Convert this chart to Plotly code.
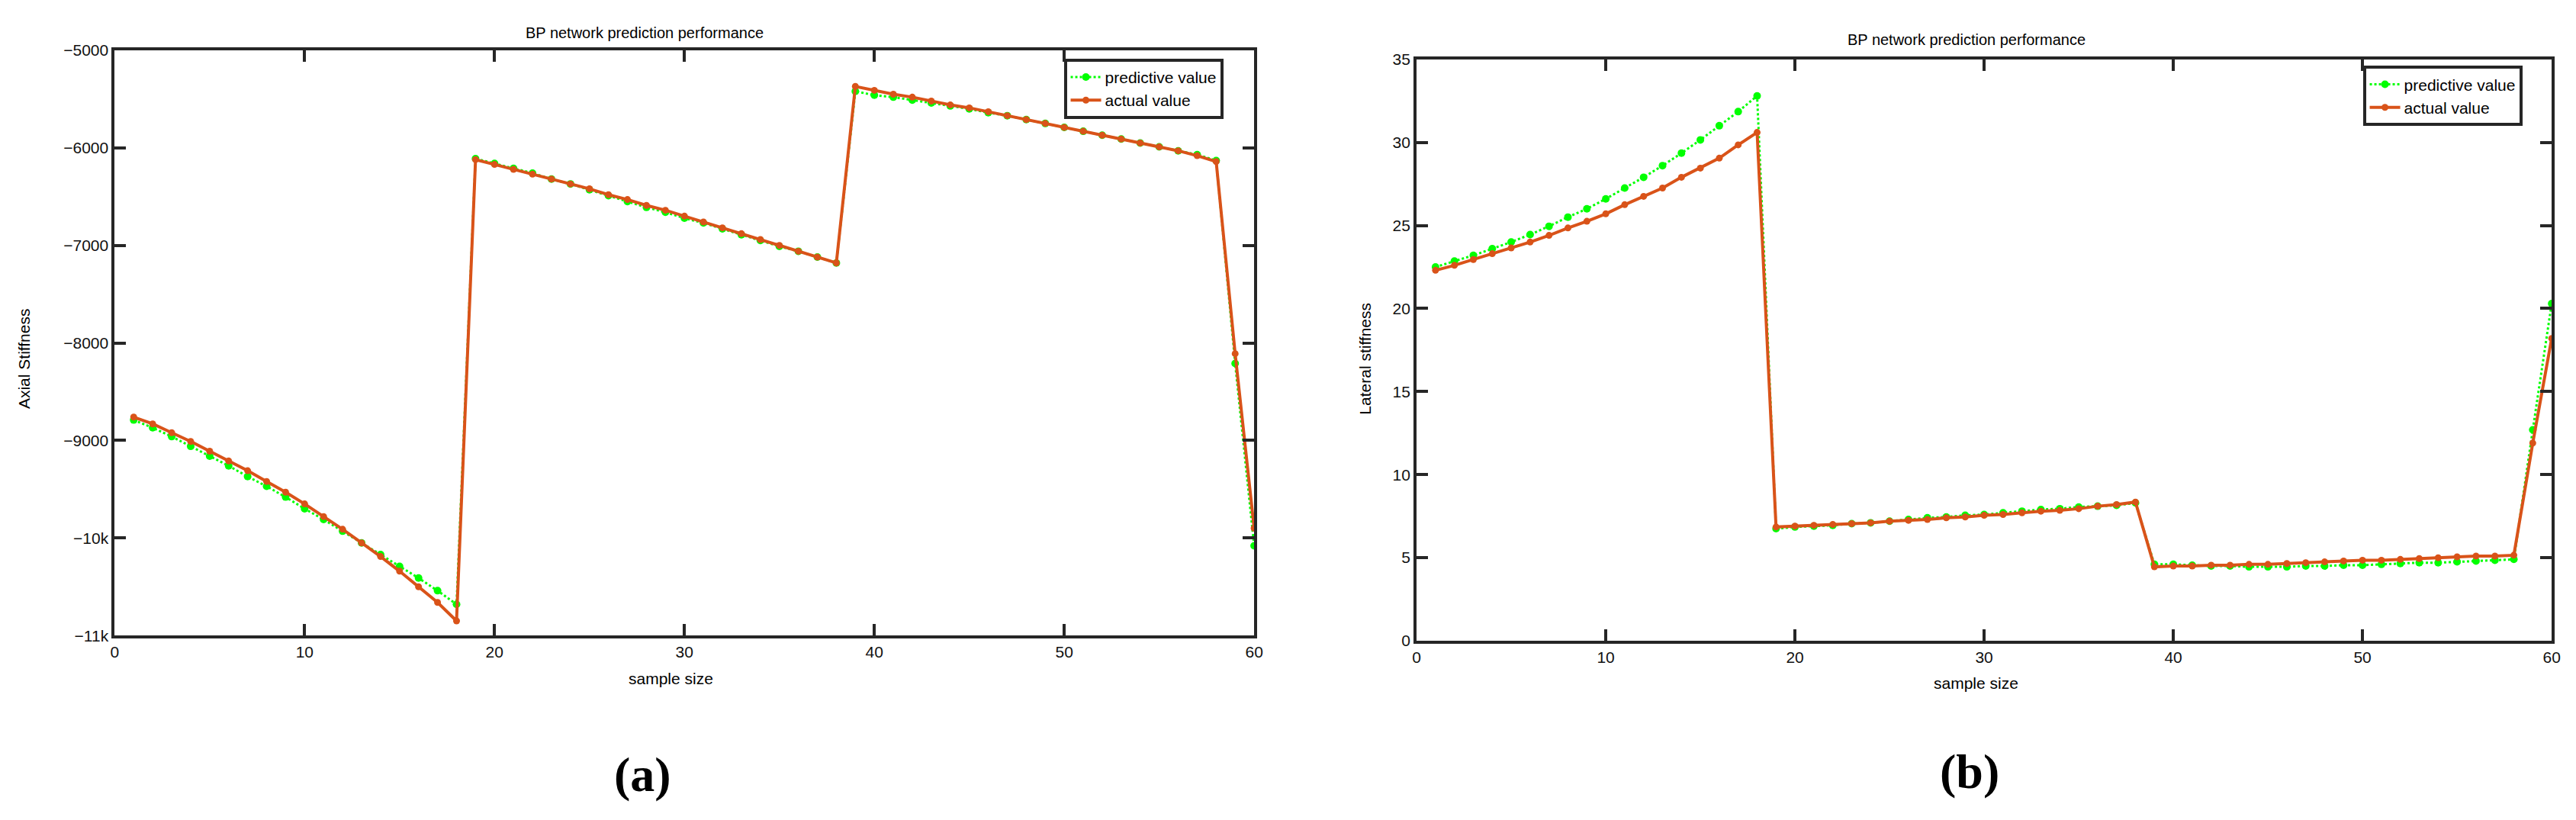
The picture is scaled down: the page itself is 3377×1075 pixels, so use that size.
import plotly.graph_objects as go

x = list(range(1, 61))

axial_actual = [-8760, -8830, -8920, -9010, -9110, -9210, -9310, -9420, -9530, -9650,
                -9780, -9910, -10050, -10190, -10340, -10500, -10660, -10850,
                -6120, -6170, -6220, -6270, -6320, -6370, -6420, -6480, -6530, -6590,
                -6640, -6700, -6760, -6820, -6880, -6940, -7000, -7060, -7120, -7180,
                -5370, -5410, -5450, -5480, -5520, -5560, -5590, -5630, -5670, -5710,
                -5750, -5790, -5830, -5870, -5910, -5950, -5990, -6030, -6080, -6140,
                -8110, -9900]
axial_pred = [-8790, -8870, -8960, -9060, -9160, -9260, -9370, -9470, -9580, -9700,
              -9810, -9930, -10050, -10170, -10290, -10410, -10540, -10680,
              -6110, -6160, -6210, -6260, -6320, -6370, -6430, -6490, -6550, -6610,
              -6660, -6720, -6770, -6830, -6890, -6950, -7010, -7060, -7120, -7180,
              -5420, -5460, -5480, -5510, -5540, -5570, -5600, -5640, -5670, -5710,
              -5750, -5790, -5830, -5870, -5910, -5950, -5990, -6030, -6070, -6130,
              -8210, -10080]

lat_actual = [22.3, 22.6, 22.95, 23.3, 23.65, 24.0, 24.4, 24.85, 25.25, 25.7,
              26.25, 26.75, 27.25, 27.9, 28.45, 29.05, 29.85, 30.6,
              6.85, 6.9, 6.95, 7.0, 7.05, 7.1, 7.2, 7.25, 7.3, 7.4,
              7.45, 7.55, 7.6, 7.7, 7.8, 7.85, 7.95, 8.1, 8.2, 8.35,
              4.45, 4.5, 4.5, 4.55, 4.55, 4.6, 4.6, 4.65, 4.7, 4.75,
              4.8, 4.85, 4.85, 4.9, 4.95, 5.0, 5.05, 5.1, 5.1, 5.15,
              11.9, 18.2]
lat_pred = [22.5, 22.85, 23.2, 23.6, 24.0, 24.45, 24.95, 25.5, 26.0, 26.6,
            27.25, 27.9, 28.6, 29.35, 30.15, 31.0, 31.85, 32.8,
            6.75, 6.85, 6.9, 6.95, 7.05, 7.1, 7.2, 7.3, 7.4, 7.45,
            7.55, 7.6, 7.7, 7.8, 7.9, 7.95, 8.05, 8.1, 8.15, 8.3,
            4.6, 4.6, 4.55, 4.5, 4.5, 4.45, 4.45, 4.45, 4.5, 4.5,
            4.55, 4.55, 4.6, 4.65, 4.7, 4.7, 4.75, 4.8, 4.85, 4.9,
            12.7, 20.3]

GREEN = "#00FF00"
ORANGE = "#D95319"
AX = "#262626"
FONT = "Liberation Sans, Arial, sans-serif"

fig = go.Figure()

def add_pair(xa, ya, pred, act, legend):
    fig.add_trace(go.Scatter(x=x, y=pred, mode="lines+markers", name="predictive value",
                             line=dict(color=GREEN, width=3, dash="dot"),
                             marker=dict(color=GREEN, size=10, symbol="circle"),
                             xaxis=xa, yaxis=ya, legend=legend))
    fig.add_trace(go.Scatter(x=x, y=act, mode="lines+markers", name="actual value",
                             line=dict(color=ORANGE, width=4),
                             marker=dict(color=ORANGE, size=9, symbol="circle"),
                             xaxis=xa, yaxis=ya, legend=legend))

add_pair("x", "y", axial_pred, axial_actual, "legend")
add_pair("x2", "y2", lat_pred, lat_actual, "legend2")

axcommon = dict(showgrid=False, zeroline=False, showline=True, linecolor=AX, linewidth=4,
                mirror="ticks", ticks="inside", ticklen=15, tickwidth=4, tickcolor=AX,
                tickfont=dict(family=FONT, size=21, color="#111"))

leg = dict(bgcolor="white", bordercolor=AX, borderwidth=4,
           font=dict(family=FONT, size=21, color="#000"),
           xanchor="left", yanchor="top", tracegroupgap=0, itemwidth=40)

fig.update_layout(
    width=3377, height=1075, plot_bgcolor="white", paper_bgcolor="white",
    margin=dict(l=0, r=0, t=0, b=0),
    xaxis=dict(domain=[0.0406, 0.4853], range=[0, 60], tickvals=[0, 10, 20, 30, 40, 50, 60],
               anchor="y", **axcommon),
    yaxis=dict(domain=[0.2270, 0.9563], range=[-11000, -5000],
               tickvals=[-11000, -10000, -9000, -8000, -7000, -6000, -5000],
               anchor="x", **axcommon),
    xaxis2=dict(domain=[0.5487, 0.9917], range=[0, 60], tickvals=[0, 10, 20, 30, 40, 50, 60],
                anchor="y2", **axcommon),
    yaxis2=dict(domain=[0.2205, 0.9451], range=[0, 35], tickvals=[0, 5, 10, 15, 20, 25, 30, 35],
                anchor="x2", **axcommon),
    legend=dict(x=0.411, y=0.946, **leg),
    legend2=dict(x=0.918, y=0.937, **leg),
    showlegend=True,
)

def ann(text, xp, yp, size=21, angle=0, fam=FONT, bold=False):
    fig.add_annotation(text=f"<b>{text}</b>" if bold else text, x=xp, y=yp,
                       xref="paper", yref="paper", showarrow=False, textangle=angle,
                       font=dict(family=fam, size=size, color="#000"),
                       xanchor="center", yanchor="middle")

H, W = 1075, 3377
ann("BP network prediction performance", 835 / W, 1 - 23 / H, size=20)
ann("BP network prediction performance", 2578 / W, 1 - 33 / H, size=20)
ann("sample size", 870 / W, 1 - 888 / H)
ann("sample size", 2590 / W, 1 - 895 / H)
ann("Axial Stiffness", 17 / W, 1 - 460 / H, angle=-90)
ann("Lateral stiffness", 1785 / W, 1 - 460 / H, angle=-90)
ann("(a)", 833 / W, 1 - 1017 / H, size=64, fam="Liberation Serif, Times New Roman, serif", bold=True)
ann("(b)", 2582 / W, 1 - 1013 / H, size=64, fam="Liberation Serif, Times New Roman, serif", bold=True)

fig.write_html("out.html")
